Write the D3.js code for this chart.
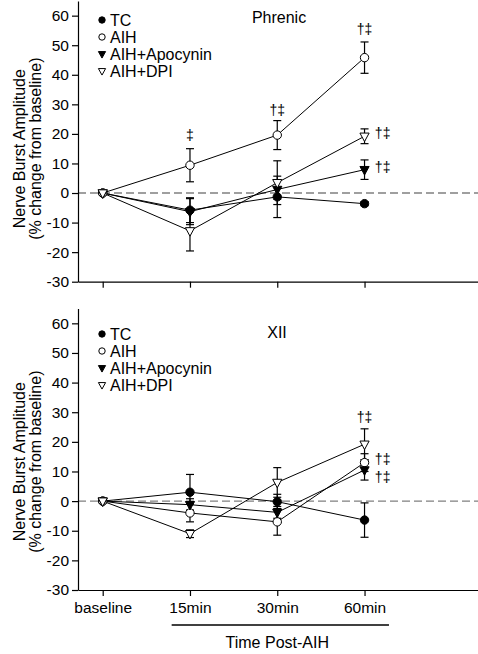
<!DOCTYPE html>
<html><head><meta charset="utf-8">
<script src="https://cdn.jsdelivr.net/npm/d3@7"></script>
<style>
html,body{margin:0;padding:0;background:#fff;}
text{font-family:"Liberation Sans",Arial,sans-serif;fill:#000;}
</style></head>
<body><svg id="chart" width="478" height="654"></svg>
<script>
// ---------- data ----------
const timeLabels = ["baseline", "15min", "30min", "60min"];
const seriesNames = ["TC", "AIH", "AIH+Apocynin", "AIH+DPI"];
const yTicks = [-30, -20, -10, 0, 10, 20, 30, 40, 50, 60];
const panelTitles = ["Phrenic", "XII"];

// Phrenic panel
const phrenicTC = [0, -5.8, -1.3, -3.6];
const phrenicTCErr = [0, 4.2, 7.0, 0.7];
const phrenicAIH = [0, 9.4, 19.6, 45.8];
const phrenicAIHErr = [0, 5.6, 4.9, 5.3];
const phrenicApo = [0, -6.3, 1.2, 7.9];
const phrenicApoErr = [0, 4.4, 3.3, 3.3];
const phrenicDPI = [0, -12.8, 3.5, 19.2];
const phrenicDPIErr = [0, 6.8, 7.4, 2.5];

// XII panel
const xiiTC = [0, 3.0, -0.2, -6.4];
const xiiTCErr = [0, 6.0, 2.5, 5.8];
const xiiAIH = [0, -4.0, -7.0, 13.0];
const xiiAIHErr = [0, 3.0, 4.5, 3.0];
const xiiApo = [0, -1.2, -3.8, 10.5];
const xiiApoErr = [0, 2.0, 2.0, 3.4];
const xiiDPI = [0, -11.0, 6.3, 19.2];
const xiiDPIErr = [0, 1.3, 5.0, 5.2];

// significance annotations: [text, time index, value]
const phrenicMarks = [["‡", 1, 19.6], ["†‡", 2, 28.1], ["†‡", 3, 55.4], ["†‡", 3.21, 20.2], ["†‡", 3.21, 8.9]];
const xiiMarks = [["†‡", 3, 28.5], ["†‡", 3.21, 14.2], ["†‡", 3.21, 8.0]];

// ---------- drawing ----------
const svg = d3.select("#chart");
const FONT = "Liberation Sans, Arial, sans-serif";
const x = d3.scaleLinear().domain([-0.283, 4.3]).range([78, 478]);
const fills = ["#000", "#fff", "#000", "#fff"];
const kinds = ["circle", "circle", "tri", "tri"];

function triPath(w, h) {
  const top = -h * 0.375, bot = h * 0.625;
  return `M${-w},${top}L${w},${top}L0,${bot}Z`;
}

function drawMarker(g, kind, fill, cx, cy, big) {
  if (kind === "circle") {
    g.append("circle").attr("cx", cx).attr("cy", cy).attr("r", big ? 4.2 : 3.2)
      .attr("fill", fill).attr("stroke", "#000").attr("stroke-width", 1);
  } else {
    g.append("path").attr("d", big ? triPath(4.6, 8.5) : triPath(3.6, 6.5))
      .attr("transform", `translate(${cx},${cy})`)
      .attr("fill", fill).attr("stroke", "#000").attr("stroke-width", 1);
  }
}

function panel(cfg) {
  const y = d3.scaleLinear().domain([-30, 65]).range([cfg.yBottom, cfg.yBottom - 95 * cfg.ppu]);
  const g = svg.append("g");

  // zero dashed line
  g.append("line").attr("x1", x.range()[0]).attr("x2", x.range()[1])
    .attr("y1", y(0)).attr("y2", y(0))
    .attr("stroke", "#808080").attr("stroke-width", 1.3).attr("stroke-dasharray", "8,4");

  // axes
  const ya = g.append("g").attr("transform", `translate(${x.range()[0]},0)`)
    .call(d3.axisLeft(y).tickValues(yTicks).tickSize(6).tickSizeOuter(0).tickPadding(3).tickFormat(d => String(d)));
  const xa = g.append("g").attr("transform", `translate(0,${cfg.yBottom})`)
    .call(d3.axisBottom(x).tickValues([0, 1, 2, 3]).tickSize(6).tickSizeOuter(0).tickPadding(6)
      .tickFormat(i => cfg.showLabels ? timeLabels[i] : ""));
  [ya, xa].forEach(a => {
    a.attr("font-size", null).attr("font-family", null);
    a.selectAll("path,line").attr("stroke", "#000").attr("stroke-width", 1.2);
    a.selectAll("text").attr("fill", "#000").style("font-size", "15.5px").style("font-family", FONT);
  });

  // y label
  const cy = (y(60) + y(-30)) / 2 + cfg.labelShift;
  g.append("text").attr("transform", `translate(25,${cy}) rotate(-90)`)
    .attr("text-anchor", "middle").style("font-size", "16px").text("Nerve Burst Amplitude");
  g.append("text").attr("transform", `translate(41,${cy}) rotate(-90)`)
    .attr("text-anchor", "middle").style("font-size", "16px").text("(% change from baseline)");

  // title
  g.append("text").attr("x", cfg.titleX).attr("y", cfg.titleY).attr("text-anchor", "middle")
    .attr("dy", "0.35em").style("font-size", "16px").text(cfg.title);

  const idx = [0, 1, 2, 3];
  const line = d3.line().x((d, i) => x(i)).y(d => y(d));
  cfg.series.forEach(s => {
    g.append("path").attr("d", line(s.v)).attr("fill", "none").attr("stroke", "#000").attr("stroke-width", 1);
  });
  cfg.series.forEach(s => {
    idx.forEach(i => {
      if (!s.e[i]) return;
      const xi = x(i), lo = y(s.v[i] - s.e[i]), hi = y(s.v[i] + s.e[i]);
      g.append("line").attr("x1", xi).attr("x2", xi).attr("y1", lo).attr("y2", hi).attr("stroke", "#000").attr("stroke-width", 1.2);
      [lo, hi].forEach(yy => g.append("line").attr("x1", xi - 4).attr("x2", xi + 4).attr("y1", yy).attr("y2", yy).attr("stroke", "#000").attr("stroke-width", 1.2));
    });
  });
  cfg.series.forEach((s, k) => {
    idx.forEach(i => drawMarker(g, kinds[k], fills[k], x(i), y(s.v[i]), true));
  });

  // annotations
  cfg.marks.forEach(m => {
    const right = m[1] % 1 !== 0;
    g.append("text").attr("x", right ? x(m[1]) - 8 : x(m[1])).attr("y", y(m[2]))
      .attr("dy", "0.35em").attr("text-anchor", right ? "start" : "middle")
      .style("font-size", "14px").text(m[0]);
  });

  // legend
  seriesNames.forEach((n, k) => {
    const ly = cfg.legendY + k * 17;
    drawMarker(g, kinds[k], fills[k], 102, ly, false);
    g.append("text").attr("x", 110).attr("y", ly).attr("dy", "0.35em").style("font-size", "16px").text(n);
  });
}

panel({
  yBottom: 281.7, ppu: 2.956, showLabels: false, title: panelTitles[0], titleX: 279, titleY: 17,
  legendY: 20, labelShift: 0, marks: phrenicMarks,
  series: [
    { v: phrenicTC, e: phrenicTCErr }, { v: phrenicAIH, e: phrenicAIHErr },
    { v: phrenicApo, e: phrenicApoErr }, { v: phrenicDPI, e: phrenicDPIErr }]
});
panel({
  yBottom: 590, ppu: 2.963, showLabels: true, title: panelTitles[1], titleX: 277, titleY: 332,
  legendY: 334, labelShift: 5, marks: xiiMarks,
  series: [
    { v: xiiTC, e: xiiTCErr }, { v: xiiAIH, e: xiiAIHErr },
    { v: xiiApo, e: xiiApoErr }, { v: xiiDPI, e: xiiDPIErr }]
});

// Time Post-AIH bracket
svg.append("line").attr("x1", x(0.79)).attr("x2", x(3.28)).attr("y1", 625).attr("y2", 625)
  .attr("stroke", "#000").attr("stroke-width", 1.5);
svg.append("text").attr("x", x(2)).attr("y", 642).attr("dy", "0.35em").attr("text-anchor", "middle")
  .style("font-size", "16px").text("Time Post-AIH");
</script></body></html>
